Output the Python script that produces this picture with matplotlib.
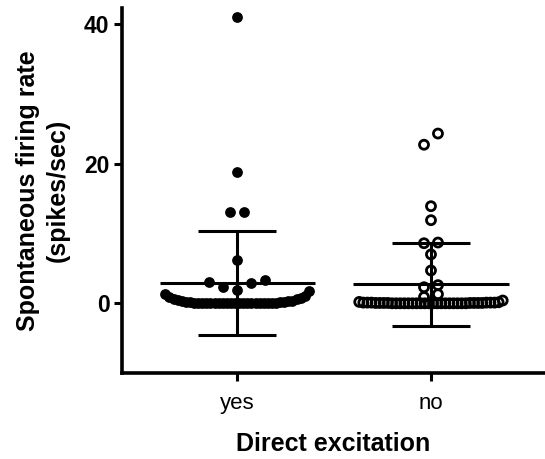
import numpy as np
import matplotlib
matplotlib.use("Agg")
import matplotlib.pyplot as plt

plt.rcParams['font.family'] = ['Liberation Sans', 'DejaVu Sans']

# ---------------- data ----------------
CATEGORIES = ["yes", "no"]

YES_VALUES = [41.0, 18.8, 13.0, 13.0, 6.2, 3.4, 3.1, 2.9, 2.4, 1.9,
              1.7, 1.3, 1.0, 0.9, 0.8, 0.6, 0.6, 0.5, 0.4, 0.3, 0.3,
              0.2, 0.2, 0.15, 0.15, 0.1, 0.1, 0.1, 0.1,
              0.05, 0.05, 0.05, 0.05, 0.05,
              0.0, 0.0, 0.0, 0.0, 0.0, 0.0, 0.0, 0.0, 0.0, 0.0, 0.0, 0.0]

NO_VALUES = [24.3, 22.7, 13.9, 11.9, 8.7, 8.6, 7.0, 4.7, 2.6, 2.3, 1.3, 0.9,
             0.4, 0.2, 0.15, 0.1, 0.1, 0.1, 0.1, 0.1, 0.1,
             0.05, 0.05, 0.05, 0.05, 0.05, 0.05, 0.05, 0.05,
             0.0, 0.0, 0.0, 0.0, 0.0, 0.0, 0.0, 0.0, 0.0, 0.0, 0.0, 0.0,
             0.0, 0.0, 0.0, 0.0, 0.0, 0.0, 0.0]

MEANS = [2.9, 2.7]
SDS = [7.5, 6.0]

Y_TICKS = [0, 20, 40]
Y_LABEL = "Spontaneous firing rate\n(spikes/sec)"
X_LABEL = "Direct excitation"

# ---------------- layout helpers ----------------
BIN_WIDTH = [1.8, 0.8]      # value-axis bin height per group (layout)
PAIR_GAP = 1.7              # isolated high values closer than this share a row
STEP = 0.072                # horizontal spacing of neighbouring dots
ROW_MAX = 0.74              # max width of a crowded row


def scatter_offsets(values, bw):
    vals = np.sort(np.asarray(values, dtype=float))
    bins = []
    cur = [vals[0]]
    start = vals[0]
    for v in vals[1:]:
        if v - start > bw:
            bins.append(cur)
            cur = [v]
            start = v
        else:
            cur.append(v)
    bins.append(cur)
    merged = []
    for b in bins:
        if (merged and len(b) == 1 and len(merged[-1]) == 1
                and b[0] - merged[-1][0] < PAIR_GAP and b[0] > 15):
            merged[-1] = merged[-1] + b
        else:
            merged.append(b)
    xs, ys = [], []
    for b in merged:
        n = len(b)
        step = STEP if n == 1 else min(STEP, ROW_MAX / (n - 1))
        pos = [(k - (n - 1) / 2) * step for k in range(n)]
        pos = sorted(pos, key=lambda p: (abs(p), p))
        for v, p in zip(sorted(b), pos):
            xs.append(p)
            ys.append(v)
    return np.array(xs), np.array(ys)


fig = plt.figure(figsize=(5.45, 4.59), dpi=100)
ax = fig.add_axes([0.224, 0.187, 0.776, 0.796])

groups = [YES_VALUES, NO_VALUES]
for i, vals in enumerate(groups):
    dx, yv = scatter_offsets(vals, BIN_WIDTH[i])
    if i == 0:
        ax.scatter(i + dx, yv, s=60, color='black', linewidths=0, zorder=2)
    else:
        ax.scatter(i + dx, yv, s=42, facecolors='none', edgecolors='black',
                   linewidths=2.0, zorder=2)
    m, sd = MEANS[i], SDS[i]
    ax.plot([i - 0.40, i + 0.40], [m, m], color='black', lw=2.2, zorder=3,
            solid_capstyle='butt')
    ax.plot([i, i], [m - sd, m + sd], color='black', lw=2.2, zorder=3,
            solid_capstyle='butt')
    for yy in (m - sd, m + sd):
        ax.plot([i - 0.2, i + 0.2], [yy, yy], color='black', lw=2.2, zorder=3,
                solid_capstyle='butt')

ax.set_xlim(-0.593, 1.588)
ax.set_ylim(-10, 42.3)
ax.set_xticks(range(len(CATEGORIES)))
ax.set_xticklabels(CATEGORIES, fontsize=16)
ax.set_yticks(Y_TICKS)
ax.set_yticklabels([str(t) for t in Y_TICKS], fontsize=16.5, fontweight='bold')
ax.tick_params(axis='both', direction='out', length=6, width=2.2, color='black')
ax.tick_params(axis='x', pad=8)
ax.tick_params(axis='y', pad=3)

for s in ('top', 'right'):
    ax.spines[s].set_visible(False)
for s in ('left', 'bottom'):
    ax.spines[s].set_linewidth(2.6)
    ax.spines[s].set_color('black')

ax.set_ylabel(Y_LABEL, fontsize=18, fontweight='bold', labelpad=10,
              linespacing=1.35)
ax.set_xlabel(X_LABEL, fontsize=18, fontweight='bold', labelpad=13)

fig.savefig("out.png", dpi=100)
